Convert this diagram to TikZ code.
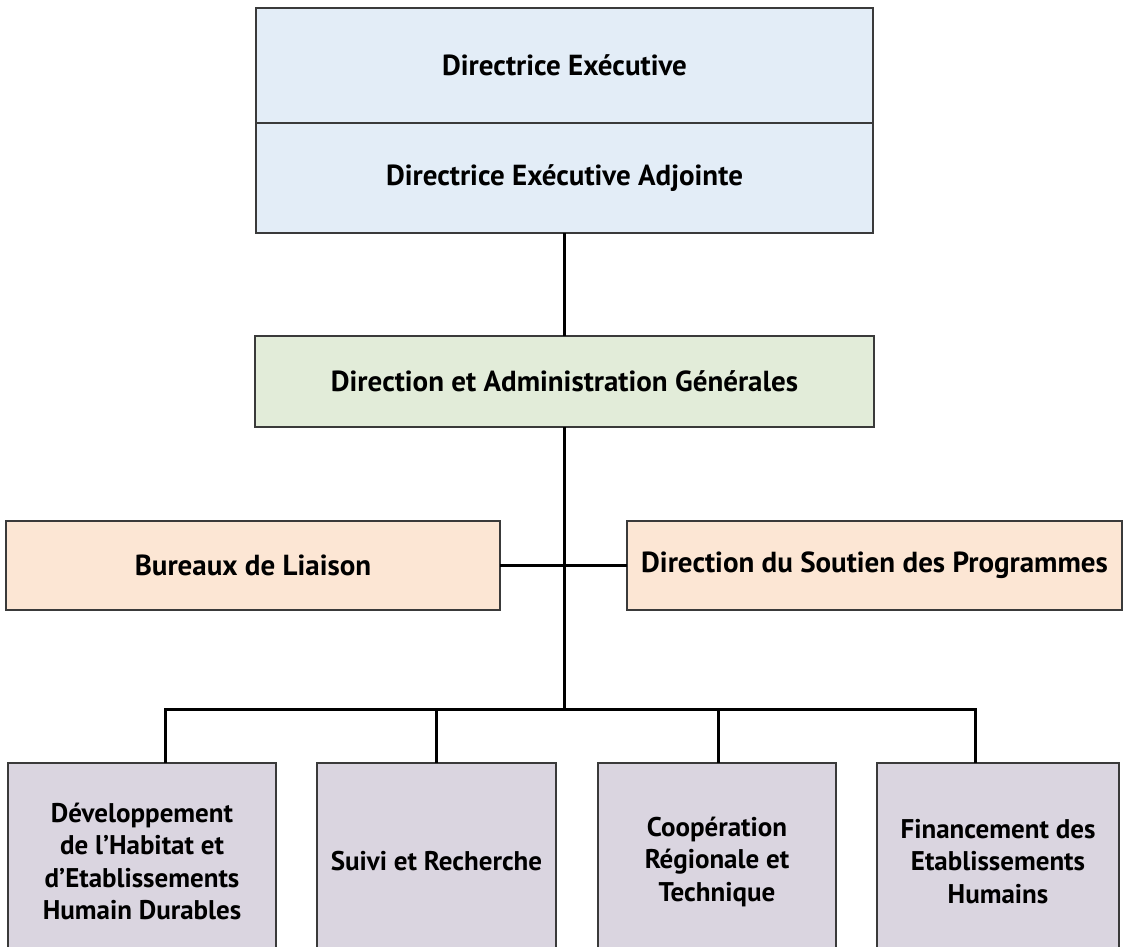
\documentclass[tikz,border=0pt]{standalone}
\usepackage{fontspec}
\setmainfont{PT Sans}
\definecolor{cblue}{HTML}{E3EDF7}
\definecolor{cgreen}{HTML}{E2ECD9}
\definecolor{corange}{HTML}{FCE6D4}
\definecolor{cpurple}{HTML}{DAD5E0}
\definecolor{boxline}{HTML}{3A3A3A}
\begin{document}
\begin{tikzpicture}[x=1pt,y=-1pt,
  box/.style={draw=boxline, line width=1.3pt, inner sep=0pt, outer sep=0pt,
    font=\bfseries\fontsize{29}{32.5}\selectfont, align=center},
  lowbox/.style={box, fill=cpurple, minimum height=197pt,
    font=\bfseries\fontsize{27}{32.5}\selectfont},
  conn/.style={line width=3pt, line join=miter}]
\useasboundingbox (0,0) rectangle (1128,946);
% top
\node[box, fill=cblue, minimum width=617pt, minimum height=115pt] (de) at (564.5,65.5) {Directrice Exécutive};
\node[box, fill=cblue, minimum width=617pt, minimum height=110pt] (dea) at (564.5,178) {Directrice Exécutive Adjointe};
% middle
\node[box, fill=cgreen, minimum width=619pt, minimum height=91pt] (dag) at (564.5,381.5) {Direction et Administration Générales};
% side
\node[box, fill=corange, minimum width=494pt, minimum height=89pt] (bl) at (253,565.5) {Bureaux de Liaison};
\node[box, fill=corange, minimum width=495pt, minimum height=89pt] (dsp) at (874.5,565.5) {Direction du Soutien des Programmes};
% bottom
\node[lowbox, minimum width=268pt] (b1) at (142,861.5) {Développement\\de l’Habitat et\\d’Etablissements\\Humain Durables};
\node[lowbox, minimum width=239pt] (b2) at (436.5,861.5) {Suivi et Recherche};
\node[lowbox, minimum width=238pt] (b3) at (717,861.5) {Coopération\\Régionale et\\Technique};
\node[lowbox, minimum width=242pt] (b4) at (998,861.5) {Financement des\\Etablissements\\Humains};
% coordinates
\coordinate (hub) at (564.5,709);
\coordinate (d1) at (165,709);
\coordinate (d2) at (436,709);
\coordinate (d3) at (718,709);
\coordinate (d4) at (975,709);
% connectors
\draw[conn] (dea.south) -- (dag.north);
\draw[conn] (dag.south) -- (hub);
\draw[conn] (bl.east) -- (dsp.west);
\draw[conn] (d1 |- b1.north) -- (d1) -- (d4) -- (d4 |- b4.north);
\draw[conn] (d2) -- (d2 |- b2.north);
\draw[conn] (d3) -- (d3 |- b3.north);
\end{tikzpicture}
\end{document}
